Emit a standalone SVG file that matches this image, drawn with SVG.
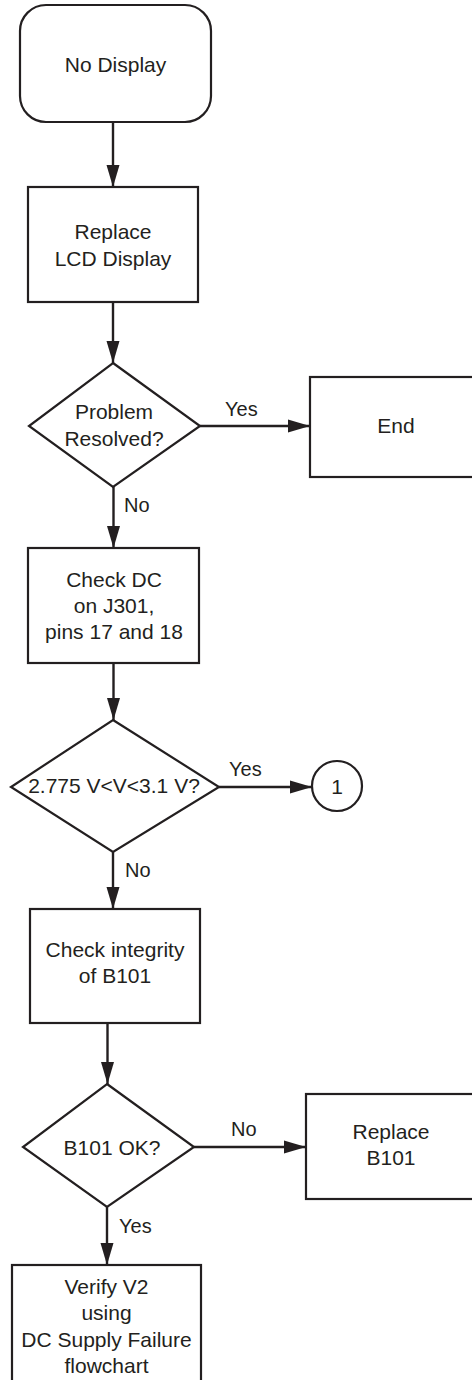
<svg xmlns="http://www.w3.org/2000/svg" width="472" height="1380" viewBox="0 0 472 1380">
<style>
.s{fill:#fff;stroke:#231f20;stroke-width:2.2}
.t{font-family:"Liberation Sans",Arial,sans-serif;font-size:21px;fill:#231f20;text-anchor:middle}
.l{font-family:"Liberation Sans",Arial,sans-serif;font-size:20px;fill:#231f20}
.c{fill:none;stroke:#231f20;stroke-width:2.4}
</style>
<defs>
<marker id="ah" markerUnits="userSpaceOnUse" markerWidth="22" markerHeight="14" refX="22" refY="7" orient="auto">
<path d="M0,0.5 L22,7 L0,13.5 z" fill="#231f20"/>
</marker>
</defs>
<rect width="472" height="1380" fill="#fff"/>
<g id="connectors">
<line class="c" x1="113" y1="122" x2="113" y2="187" marker-end="url(#ah)"/>
<line class="c" x1="113" y1="302" x2="113" y2="363" marker-end="url(#ah)"/>
<line class="c" x1="200" y1="426" x2="310" y2="426" marker-end="url(#ah)"/>
<text class="l" x="225" y="416">Yes</text>
<line class="c" x1="113.5" y1="487" x2="113.5" y2="548" marker-end="url(#ah)"/>
<text class="l" x="124" y="512">No</text>
<line class="c" x1="113.5" y1="663" x2="113.5" y2="720" marker-end="url(#ah)"/>
<line class="c" x1="219" y1="787" x2="312" y2="787" marker-end="url(#ah)"/>
<text class="l" x="229" y="776">Yes</text>
<line class="c" x1="113" y1="852" x2="113" y2="909" marker-end="url(#ah)"/>
<text class="l" x="125" y="877">No</text>
<line class="c" x1="107.5" y1="1023" x2="107.5" y2="1084" marker-end="url(#ah)"/>
<line class="c" x1="194" y1="1147" x2="306" y2="1147" marker-end="url(#ah)"/>
<text class="l" x="231" y="1136">No</text>
<line class="c" x1="107" y1="1207" x2="107" y2="1265" marker-end="url(#ah)"/>
<text class="l" x="119" y="1233">Yes</text>
</g>
<g id="start">
<rect class="s" x="20" y="5" width="191" height="117" rx="26" ry="26"/>
<text class="t" x="115.5" y="72">No Display</text>
</g>
<g id="replace-lcd">
<rect class="s" x="28" y="187" width="170" height="115"/>
<text class="t" x="113" y="239">Replace</text>
<text class="t" x="113" y="266">LCD Display</text>
</g>
<g id="problem-resolved">
<polygon class="s" points="113,363 200,426 113,487 29,426"/>
<text class="t" x="114" y="419">Problem</text>
<text class="t" x="114" y="446">Resolved?</text>
</g>
<g id="end">
<rect class="s" x="310" y="377" width="172" height="100"/>
<text class="t" x="396" y="433">End</text>
</g>
<g id="check-dc">
<rect class="s" x="28" y="548" width="171" height="115"/>
<text class="t" x="114" y="587">Check DC</text>
<text class="t" x="114" y="613">on J301,</text>
<text class="t" x="114" y="639">pins 17 and 18</text>
</g>
<g id="voltage-check">
<polygon class="s" points="113,720 219,787 113,852 11,787"/>
<text class="t" x="114" y="793">2.775 V&lt;V&lt;3.1 V?</text>
</g>
<g id="connector-1">
<circle class="s" cx="337" cy="786" r="25"/>
<text class="t" x="337" y="794">1</text>
</g>
<g id="check-b101">
<rect class="s" x="30" y="909" width="170" height="114"/>
<text class="t" x="115" y="957">Check integrity</text>
<text class="t" x="115" y="983">of B101</text>
</g>
<g id="b101-ok">
<polygon class="s" points="107,1084 194,1147 107,1207 23,1147"/>
<text class="t" x="112" y="1155">B101 OK?</text>
</g>
<g id="replace-b101">
<rect class="s" x="306" y="1094" width="172" height="105"/>
<text class="t" x="391" y="1139">Replace</text>
<text class="t" x="391" y="1165">B101</text>
</g>
<g id="verify-v2">
<rect class="s" x="12" y="1265" width="189" height="130"/>
<text class="t" x="106.5" y="1294">Verify V2</text>
<text class="t" x="106.5" y="1320">using</text>
<text class="t" x="106.5" y="1347">DC Supply Failure</text>
<text class="t" x="106.5" y="1373">flowchart</text>
</g>
</svg>
